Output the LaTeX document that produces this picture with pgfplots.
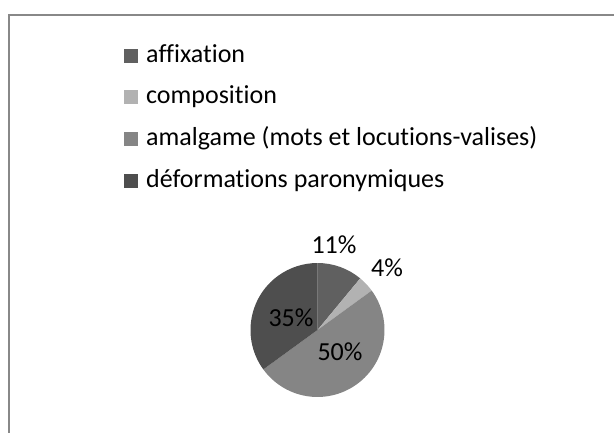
\documentclass[border=0pt]{standalone}
\usepackage{fontspec}
\setmainfont{Carlito}[Ligatures={NoCommon}]
\usepackage{pgfplots}
\usepackage{pgfplotstable}
\pgfplotsset{compat=1.18}
\definecolor{c1}{HTML}{606060}
\definecolor{c2}{HTML}{B2B2B2}
\definecolor{c3}{HTML}{858585}
\definecolor{c4}{HTML}{4E4E4E}
\definecolor{frame}{HTML}{888888}
\pgfplotstableread{
value color lx ly
11 c1 334 187
4 c2 387 164
50 c3 340 80
35 c4 291 114
}\piedata
\begin{document}
\begin{tikzpicture}
\useasboundingbox (0,0) rectangle (614pt,432pt);
\begin{axis}[
  width=614pt, height=432pt, scale only axis,
  xmin=0, xmax=614, ymin=0, ymax=432,
  hide axis,
  legend cell align=left,
  legend style={at={(axis cs:124,389)}, anchor=north west, draw=none, fill=none,
    inner sep=0pt, row sep=16.7pt,
    nodes={inner sep=0pt, text height=19pt, text depth=6pt, font=\fontsize{26}{31}\selectfont},
    /tikz/every odd column/.append style={column sep=8pt}},
  legend image code/.code={\fill[#1, draw=none] (0pt,-7pt) rectangle (14pt,7pt);},
]
\draw[frame, line width=2pt] (axis cs:8.6,-20) rectangle (axis cs:640,417);
\pgfmathsetmacro\startangle{90}
\pgfplotsforeachungrouped \i in {0,...,3}{%
  \pgfplotstablegetelem{\i}{value}\of\piedata \let\v\pgfplotsretval
  \pgfplotstablegetelem{\i}{color}\of\piedata \let\c\pgfplotsretval
  \pgfplotstablegetelem{\i}{lx}\of\piedata \let\lx\pgfplotsretval
  \pgfplotstablegetelem{\i}{ly}\of\piedata \let\ly\pgfplotsretval
  \pgfmathsetmacro\endangle{\startangle - 3.6*\v}
  \edef\temp{\noexpand\fill[\c] (axis cs:317.5,102) -- ++(\startangle:67pt) arc[start angle=\startangle, end angle=\endangle, radius=67pt] -- cycle;
    \noexpand\node[font=\noexpand\fontsize{26}{31}\noexpand\selectfont, inner sep=0pt] at (axis cs:\lx,\ly) {\v\noexpand\%};}
  \temp
  \let\startangle\endangle
}
\addlegendimage{fill=c1, draw=none}\addlegendentry{affixation}
\addlegendimage{fill=c2, draw=none}\addlegendentry{composition}
\addlegendimage{fill=c3, draw=none}\addlegendentry{amalgame (mots et locutions-valises)}
\addlegendimage{fill=c4, draw=none}\addlegendentry{déformations paronymiques}
\end{axis}
\end{tikzpicture}
\end{document}
